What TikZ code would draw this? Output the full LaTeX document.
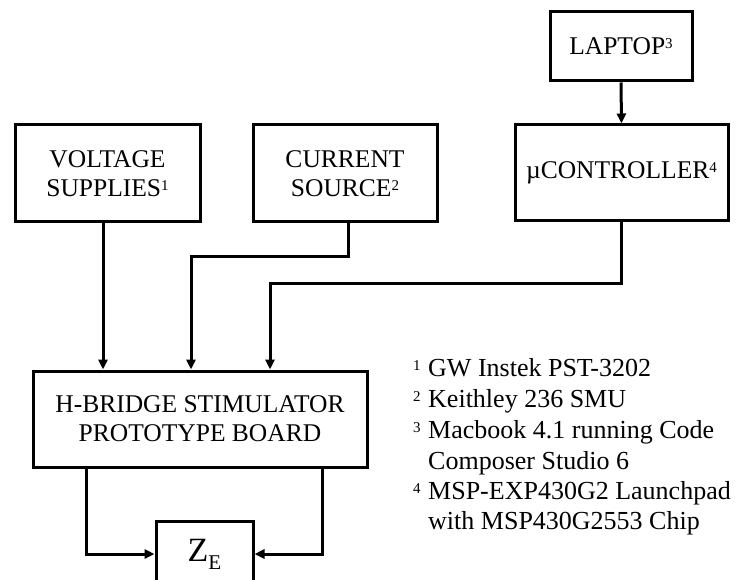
\documentclass[tikz,border=0pt]{standalone}
\usepackage{fontspec}
\setmainfont{Liberation Serif}
\usetikzlibrary{arrows.meta}

% small raised index used after labels and in the legend
\newcommand\supmark[1]{\raisebox{6pt}{\fontsize{15}{15}\selectfont #1}}

\begin{document}
\begin{tikzpicture}[x=1pt,y=-1pt,
  blk/.style={draw,line width=3pt,inner sep=0pt,align=center,
    font=\fontsize{25.5}{29}\selectfont},
  link/.style={line width=3pt,-{Triangle[length=10pt,width=9pt]}},
  note/.style={anchor=base west,inner sep=0pt,font=\fontsize{26}{30}\selectfont}]
\useasboundingbox (0,0) rectangle (736,580);
\clip (0,0) rectangle (736,580);

% blocks
\node[blk,minimum width=185,minimum height=97] (vs) at (107.5,173.5)
  {VOLTAGE\\SUPPLIES\supmark{1}};
\node[blk,minimum width=184,minimum height=97] (cs) at (345,173.5)
  {CURRENT\\SOURCE\supmark{2}};
\node[blk,minimum width=142,minimum height=69] (lap) at (621,46.5)
  {LAPTOP\supmark{3}};
\node[blk,minimum width=213,minimum height=96] (uc) at (621.5,173)
  {µCONTROLLER\supmark{4}};
\node[blk,minimum width=334,minimum height=96] (hb) at (200,419)
  {H-BRIDGE STIMULATOR\\PROTOTYPE BOARD};
\node[blk,minimum width=97,minimum height=66] (ze) at (204.5,554)
  {\fontsize{34}{34}\selectfont Z\raisebox{-8pt}{\fontsize{21}{21}\selectfont E}};

% connectors
\draw[link] (lap.south) -- (uc.north);
\draw[link] ([xshift=-4.5pt]vs.south) -- ([xshift=-4.5pt]vs.south |- hb.north);
\draw[link] ([xshift=3pt]cs.south) |- (191,256) -- (191,0 |- hb.north);
\draw[link] (uc.south) |- (270,283) -- (270,0 |- hb.north);
\draw[link] (86,0 |- hb.south) |- (ze.west);
\draw[link] (322,0 |- hb.south) |- (ze.east);

% legend
\node[note] (m1) at (413,376) {\supmark{1}};
\node[note] (t1) at (428,376) {GW Instek PST-3202};
\node[note] (m2) at (413,407) {\supmark{2}};
\node[note] (t2) at (428,407) {Keithley 236 SMU};
\node[note] (m3) at (413,438) {\supmark{3}};
\node[note] (t3) at (428,438) {Macbook 4.1 running Code};
\node[note] (t3b) at (428,469) {Composer Studio 6};
\node[note] (m4) at (413,499) {\supmark{4}};
\node[note] (t4) at (428,499) {MSP-EXP430G2 Launchpad};
\node[note] (t4b) at (428,529) {with MSP430G2553 Chip};
\end{tikzpicture}
\end{document}
